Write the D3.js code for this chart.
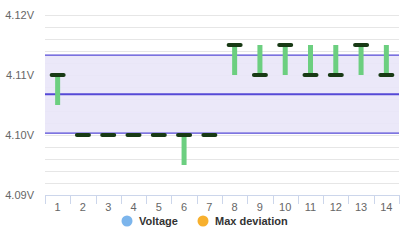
<!DOCTYPE html>
<html>
<head>
<meta charset="utf-8">
<script src="https://cdn.jsdelivr.net/npm/d3@7"></script>
<style>
    body { margin: 0; background: #fff; }
    svg { display: block; font-family: "Liberation Sans", Arial, sans-serif; }
</style>
</head>
<body>
<svg id="chart" width="400" height="241"></svg>
<script>
"use strict";

// chart data
var categories = ["1", "2", "3", "4", "5", "6", "7", "8", "9", "10", "11", "12", "13", "14"];
var voltage = [4.11, 4.10, 4.10, 4.10, 4.10, 4.10, 4.10, 4.115, 4.11, 4.115, 4.11, 4.11, 4.115, 4.11];
var devLow = [4.105, 4.10, 4.10, 4.10, 4.10, 4.095, 4.10, 4.11, 4.11, 4.11, 4.11, 4.11, 4.11, 4.11];
var devHigh = [4.11, 4.10, 4.10, 4.10, 4.10, 4.10, 4.10, 4.115, 4.115, 4.115, 4.115, 4.115, 4.115, 4.115];
var limits = { upper: 4.1133, mean: 4.1068, lower: 4.1003 };
var yTicks = [4.09, 4.10, 4.11, 4.12];
var legendItems = [
    { name: "Voltage", color: "#7cb5ec" },
    { name: "Max deviation", color: "#f7b02e" }
];

var MARGIN = { left: 45, right: 1, top: 15, bottom: 46 };
var WIDTH = 400, HEIGHT = 241;

var svg = d3.select("#chart");

var x = d3.scaleBand()
    .domain(categories)
    .range([MARGIN.left, WIDTH - MARGIN.right]);

var y = d3.scaleLinear()
    .domain([4.09, 4.12])
    .range([HEIGHT - MARGIN.bottom, MARGIN.top]);

// minor grid every 0.002
var grid = svg.append("g").attr("class", "grid");
grid.selectAll("line")
    .data(d3.range(0, 16).map(function(i) { return 4.09 + i * 0.002; }))
    .enter().append("line")
    .attr("x1", MARGIN.left)
    .attr("x2", WIDTH - MARGIN.right)
    .attr("y1", function(d) { return Math.round(y(d)) + 0.5; })
    .attr("y2", function(d) { return Math.round(y(d)) + 0.5; })
    .attr("stroke", "#e6e6e6");

// plot band between control limits
svg.append("rect")
    .attr("x", MARGIN.left)
    .attr("width", WIDTH - MARGIN.right - MARGIN.left)
    .attr("y", y(limits.upper))
    .attr("height", y(limits.lower) - y(limits.upper))
    .attr("fill", "#e9e6f9")
    .attr("opacity", 0.92);

// plot lines
var plotLines = [
    { v: limits.upper, w: 1.3 },
    { v: limits.mean, w: 2 },
    { v: limits.lower, w: 1.3 }
];
svg.append("g").selectAll("line")
    .data(plotLines)
    .enter().append("line")
    .attr("x1", MARGIN.left)
    .attr("x2", WIDTH - MARGIN.right)
    .attr("y1", function(d) { return y(d.v); })
    .attr("y2", function(d) { return y(d.v); })
    .attr("stroke", "#5548d6")
    .attr("stroke-width", function(d) { return d.w; });

// y axis labels
svg.append("g").selectAll("text")
    .data(yTicks)
    .enter().append("text")
    .attr("x", 34)
    .attr("y", function(d) { return y(d); })
    .attr("dy", "0.35em")
    .attr("text-anchor", "end")
    .attr("font-size", 11)
    .attr("fill", "#666")
    .text(function(d) { return d.toFixed(2) + "V"; });

// x axis
var xAxis = svg.append("g").attr("class", "x-axis");
xAxis.append("line")
    .attr("x1", MARGIN.left)
    .attr("x2", WIDTH - MARGIN.right)
    .attr("y1", y(4.09) + 0.5)
    .attr("y2", y(4.09) + 0.5)
    .attr("stroke", "#ccd6eb");

var tickPos = categories.map(function(c) { return x(c); }).concat([x.range()[1]]);
xAxis.selectAll(".tick")
    .data(tickPos)
    .enter().append("line")
    .attr("class", "tick")
    .attr("x1", function(d) { return Math.round(d) + 0.5; })
    .attr("x2", function(d) { return Math.round(d) + 0.5; })
    .attr("y1", y(4.09))
    .attr("y2", y(4.09) + 9)
    .attr("stroke", "#ccd6eb");

xAxis.selectAll("text")
    .data(categories)
    .enter().append("text")
    .attr("x", function(d) { return x(d) + x.bandwidth() / 2; })
    .attr("y", y(4.09) + 16)
    .attr("text-anchor", "middle")
    .attr("font-size", 11)
    .attr("fill", "#666")
    .text(function(d) { return d; });

// error bars (max deviation)
svg.append("g").selectAll("rect")
    .data(categories)
    .enter().append("rect")
    .attr("x", function(d) { return x(d) + x.bandwidth() / 2 - 2.5; })
    .attr("width", 5)
    .attr("y", function(d, i) { return y(devHigh[i]); })
    .attr("height", function(d, i) { return y(devLow[i]) - y(devHigh[i]); })
    .attr("fill", "#6ccf80");

// voltage markers
svg.append("g").selectAll("rect")
    .data(categories)
    .enter().append("rect")
    .attr("x", function(d) { return x(d) + x.bandwidth() / 2 - 8; })
    .attr("width", 16)
    .attr("y", function(d, i) { return y(voltage[i]) - 2; })
    .attr("height", 4)
    .attr("rx", 2)
    .attr("fill", "#183a15");

// legend
var legend = svg.append("g").attr("class", "legend");
var legendX = [127, 203];
legendItems.forEach(function(item, i) {
    var g = legend.append("g")
        .attr("transform", "translate(" + legendX[i] + ",221)");
    g.append("circle")
        .attr("r", 5.5)
        .attr("fill", item.color);
    g.append("text")
        .attr("x", 12)
        .attr("dy", "0.35em")
        .attr("font-size", 11)
        .attr("font-weight", "bold")
        .attr("fill", "#333")
        .text(item.name);
});
</script>
</body>
</html>
